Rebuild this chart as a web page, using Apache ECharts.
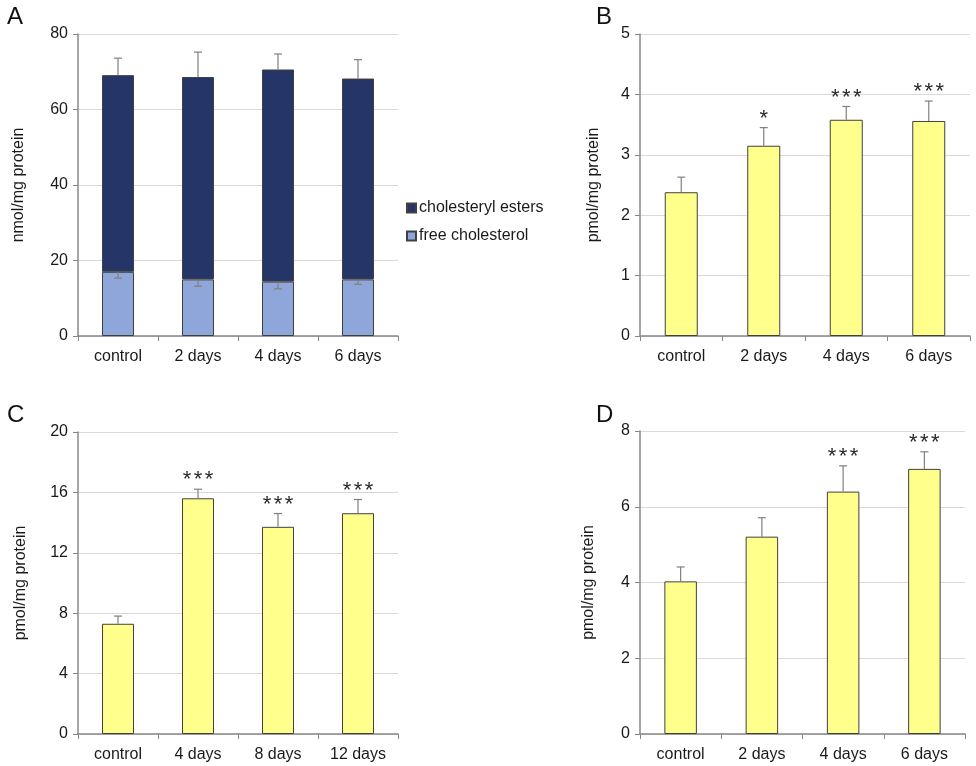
<!DOCTYPE html>
<html>
<head>
<meta charset="utf-8">
<script src="https://cdn.jsdelivr.net/npm/echarts@6/dist/echarts.min.js"></script>
<style>
html,body{margin:0;padding:0;background:#fff;}
#c{width:976px;height:766px;}
</style>
</head>
<body>
<div id="c"></div>
<script>
// Panel A
const catsA = ['control', '2 days', '4 days', '6 days'];
const freeChol = [17.0, 15.0, 14.4, 15.0];
const freeCholErr = [1.7, 1.8, 1.9, 1.3];
const cholEsters = [52.1, 53.6, 56.2, 53.2];
const totalErr = [4.5, 6.6, 4.1, 5.0];
const ticksA = [0, 20, 40, 60, 80];
// Panel B
const catsB = ['control', '2 days', '4 days', '6 days'];
const valsB = [2.38, 3.15, 3.58, 3.56];
const errB = [0.25, 0.30, 0.22, 0.33];
const sigB = ['', '*', '***', '***'];
const ticksB = [0, 1, 2, 3, 4, 5];
// Panel C
const catsC = ['control', '4 days', '8 days', '12 days'];
const valsC = [7.30, 15.61, 13.72, 14.62];
const errC = [0.51, 0.60, 0.88, 0.91];
const sigC = ['', '***', '***', '***'];
const ticksC = [0, 4, 8, 12, 16, 20];
// Panel D
const catsD = ['control', '2 days', '4 days', '6 days'];
const valsD = [4.03, 5.21, 6.40, 7.00];
const errD = [0.38, 0.50, 0.68, 0.45];
const sigD = ['', '', '***', '***'];
const ticksD = [0, 2, 4, 6, 8];

const FONT = '"Liberation Sans", Arial, sans-serif';
const AXIS_COLOR = '#888888';
const GRID_COLOR = '#d9d9d9';
const TEXT_COLOR = '#1a1a1a';
const YELLOW = '#ffff8c';
const NAVY = '#263568';
const LIGHT = '#8fa6db';
const BORDER = '#404040';
const ERR_COLOR = '#808080';

const grids = [
  {left: 78, top: 34, width: 320, height: 302},
  {left: 640, top: 34, width: 330, height: 302},
  {left: 78, top: 432, width: 320, height: 302},
  {left: 640, top: 431, width: 325, height: 303}
];

function xAxis(idx, cats) {
  return {
    type: 'category', gridIndex: idx, data: cats,
    axisLine: {lineStyle: {color: AXIS_COLOR, width: 1.5}},
    axisTick: {show: true, length: 5, lineStyle: {color: AXIS_COLOR}},
    axisLabel: {color: TEXT_COLOR, fontSize: 16, fontFamily: FONT, margin: 13}
  };
}
function yAxis(idx, ticks, name, gap) {
  return {
    type: 'value', gridIndex: idx,
    min: ticks[0], max: ticks[ticks.length - 1],
    interval: ticks[1] - ticks[0],
    name: name, nameLocation: 'middle', nameGap: gap,
    nameTextStyle: {color: TEXT_COLOR, fontSize: 16, fontFamily: FONT},
    axisLine: {show: true, lineStyle: {color: AXIS_COLOR, width: 1.5}},
    axisTick: {show: true, length: 5, lineStyle: {color: AXIS_COLOR}},
    axisLabel: {color: TEXT_COLOR, fontSize: 16, fontFamily: FONT, margin: 10},
    splitLine: {show: true, lineStyle: {color: GRID_COLOR, width: 1}}
  };
}

function makeRender(sigs) {
  return function (params, api) {
    const cat = api.value(0);
    const base = api.coord([cat, api.value(1)]);
    const end = api.coord([cat, api.value(2)]);
    const sig = sigs ? sigs[params.dataIndex] : '';
    const children = [
      {type: 'line', shape: {x1: base[0], y1: base[1], x2: end[0], y2: end[1]},
       style: {stroke: ERR_COLOR, lineWidth: 1.2}},
      {type: 'line', shape: {x1: end[0] - 4, y1: end[1], x2: end[0] + 4, y2: end[1]},
       style: {stroke: ERR_COLOR, lineWidth: 1.2}}
    ];
    const n = sig.length;
    for (let k = 0; k < n; k++) {
      children.push({type: 'text', x: end[0] + (k - (n - 1) / 2) * 11, y: end[1] - 9, style: {
        text: sig[k], x: 0, y: 0, align: 'center', verticalAlign: 'middle',
        fill: '#2a2a2a', font: '22px ' + FONT
      }});
    }
    return {type: 'group', children: children};
  };
}

function errSeries(idx, data, sigs) {
  return {
    type: 'custom', xAxisIndex: idx, yAxisIndex: idx,
    renderItem: makeRender(sigs), data: data, z: 5,
    encode: {x: 0, y: [1, 2]}, silent: true
  };
}

function yellowBar(idx, vals) {
  return {
    type: 'bar', xAxisIndex: idx, yAxisIndex: idx, data: vals,
    barWidth: '40%',
    itemStyle: {color: YELLOW, borderColor: BORDER, borderWidth: 1}
  };
}

const totals = cholEsters.map((v, i) => v + freeChol[i]);
const errA_top = catsA.map((c, i) => [i, totals[i], totals[i] + totalErr[i]]);
const errA_free = catsA.map((c, i) => [i, freeChol[i], freeChol[i] - freeCholErr[i]]);
const mkErr = (vals, errs) => vals.map((v, i) => [i, v, v + errs[i]]);

const option = {
  animation: false,
  backgroundColor: '#ffffff',
  textStyle: {fontFamily: FONT},
  grid: grids,
  legend: {
    left: 401, top: 195, orient: 'vertical',
    itemWidth: 9, itemHeight: 9, itemGap: 12,
    icon: 'rect',
    textStyle: {color: TEXT_COLOR, fontSize: 16, fontFamily: FONT, padding: [0, 0, 0, -2]},
    data: ['cholesteryl esters', 'free cholesterol']
  },
  xAxis: [xAxis(0, catsA), xAxis(1, catsB), xAxis(2, catsC), xAxis(3, catsD)],
  yAxis: [
    yAxis(0, ticksA, 'nmol/mg protein', 51),
    yAxis(1, ticksB, 'pmol/mg protein', 38),
    yAxis(2, ticksC, 'pmol/mg protein', 49),
    yAxis(3, ticksD, 'pmol/mg protein', 43)
  ],
  graphic: [
    {type: 'text', left: 7, top: 5, style: {text: 'A', font: '24px ' + FONT, fill: '#111'}},
    {type: 'text', left: 596, top: 5, style: {text: 'B', font: '24px ' + FONT, fill: '#111'}},
    {type: 'text', left: 7, top: 403, style: {text: 'C', font: '24px ' + FONT, fill: '#111'}},
    {type: 'text', left: 596, top: 403, style: {text: 'D', font: '24px ' + FONT, fill: '#111'}}
  ],
  series: [
    {name: 'free cholesterol', type: 'bar', stack: 'a', xAxisIndex: 0, yAxisIndex: 0,
     data: freeChol, barWidth: '40%',
     itemStyle: {color: LIGHT, borderColor: BORDER, borderWidth: 1}},
    {name: 'cholesteryl esters', type: 'bar', stack: 'a', xAxisIndex: 0, yAxisIndex: 0,
     data: cholEsters, barWidth: '40%',
     itemStyle: {color: NAVY, borderColor: BORDER, borderWidth: 1}},
    errSeries(0, errA_top, null),
    errSeries(0, errA_free, null),
    yellowBar(1, valsB), errSeries(1, mkErr(valsB, errB), sigB),
    yellowBar(2, valsC), errSeries(2, mkErr(valsC, errC), sigC),
    yellowBar(3, valsD), errSeries(3, mkErr(valsD, errD), sigD)
  ]
};

const chart = echarts.init(document.getElementById('c'), null, {renderer: 'canvas'});
chart.setOption(option);
</script>
</body>
</html>
